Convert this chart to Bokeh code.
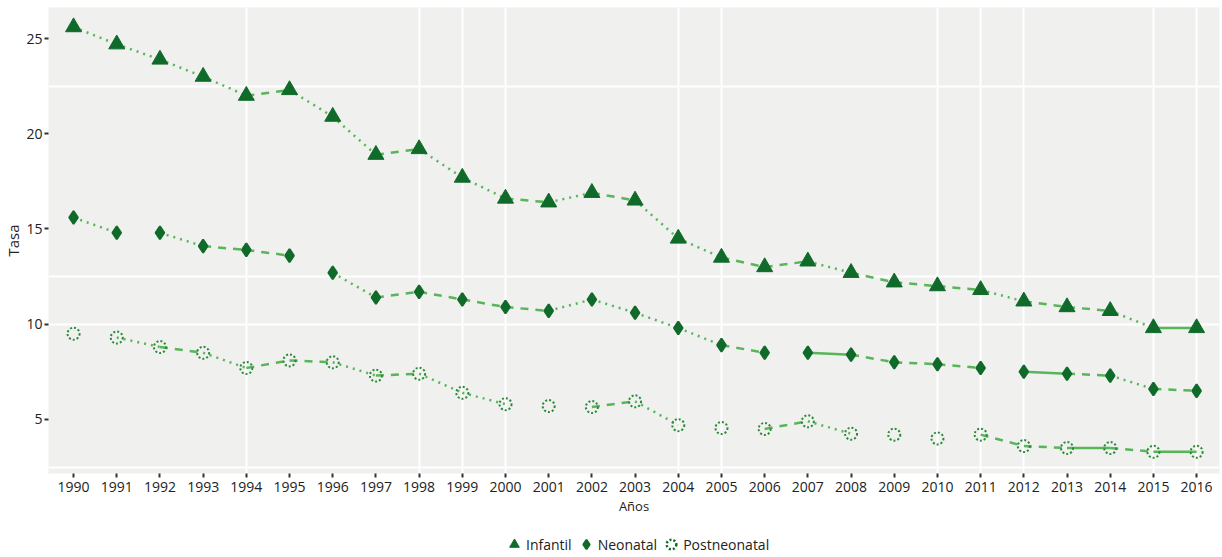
from bokeh.plotting import figure
from bokeh.layouts import column
from bokeh.models import Range1d, FixedTicker, Legend, LegendItem
from bokeh.embed import file_html
from bokeh.resources import INLINE

years = list(range(1990, 2017))
infantil = [25.6, 24.7, 23.9, 23.0, 22.0, 22.3, 20.9, 18.9, 19.2, 17.7, 16.6, 16.4, 16.9, 16.5,
            14.5, 13.5, 13.0, 13.3, 12.7, 12.2, 12.0, 11.8, 11.2, 10.9, 10.7, 9.8, 9.8]
neonatal = [15.6, 14.8, 14.8, 14.1, 13.9, 13.6, 12.7, 11.4, 11.7, 11.3, 10.9, 10.7, 11.3, 10.6,
            9.8, 8.9, 8.5, 8.5, 8.4, 8.0, 7.9, 7.7, 7.5, 7.4, 7.3, 6.6, 6.5]
postneonatal = [9.5, 9.3, 8.8, 8.5, 7.7, 8.1, 8.0, 7.3, 7.4, 6.4, 5.8, 5.7, 5.65, 5.95,
                4.7, 4.55, 4.5, 4.9, 4.25, 4.2, 4.0, 4.2, 3.6, 3.5, 3.5, 3.3, 3.3]
series_names = ["Infantil", "Neonatal", "Postneonatal"]
y_ticks = [5, 10, 15, 20, 25]

# segment line styles (o = dotted, D = dashed, S = solid, _ = none)
seg_styles = [
    "ooooDooDooDoDooDDoDDDoDDoS",
    "o_oDD_oDDDDooooD_SDDD_SDoD",
    "_oDoDDoDoo__Do__Do___DDSDS",
]
dash_map = {"o": "2 5", "D": "8 7", "S": "solid"}

DARK = "#106a2a"
LINE = "#58b558"
POST = "#2a8a3a"
FONT = "Open Sans"

p = figure(width=1220, height=530, output_backend="svg", toolbar_location=None,
           x_range=Range1d(1989.42, 2016.53), y_range=Range1d(2.16, 26.63),
           min_border_top=7, min_border_left=48, min_border_right=1, min_border_bottom=57)
p.background_fill_color = "#f0f0ef"
p.border_fill_color = "white"
p.outline_line_color = None

p.xgrid.ticker = FixedTicker(ticks=[1994, 1998, 1999, 2000, 2004, 2005, 2010, 2011, 2012, 2015, 2016])
p.ygrid.ticker = FixedTicker(ticks=[2.5, 10, 12.5, 22.5])
for g in (p.xgrid, p.ygrid):
    g.grid_line_color = "white"
    g.grid_line_width = 2

p.xaxis.ticker = FixedTicker(ticks=years)
p.yaxis.ticker = FixedTicker(ticks=y_ticks)
for ax in (p.xaxis, p.yaxis):
    ax.axis_line_color = None
    ax.major_tick_line_color = "#333333"
    ax.major_tick_line_width = 2
    ax.major_tick_out = 4
    ax.major_tick_in = 0
    ax.minor_tick_line_color = None
    ax.major_label_text_font = FONT
    ax.major_label_text_font_size = "14px"
    ax.major_label_text_color = "#222222"
    ax.axis_label_text_font = FONT
    ax.axis_label_text_font_style = "normal"
    ax.axis_label_text_color = "#222222"
p.xaxis.major_label_standoff = 4
p.yaxis.major_label_standoff = 2
p.xaxis.axis_label = "Años"
p.xaxis.axis_label_text_font_size = "13px"
p.xaxis.axis_label_standoff = 2
p.yaxis.axis_label = "Tasa"
p.yaxis.axis_label_text_font_size = "15px"
p.yaxis.axis_label_standoff = 0

all_vals = [infantil, neonatal, postneonatal]
for vals, styles in zip(all_vals, seg_styles):
    for key, dash in dash_map.items():
        idx = [i for i, c in enumerate(styles) if c == key]
        if not idx:
            continue
        p.segment(x0=[years[i] for i in idx], y0=[vals[i] for i in idx],
                  x1=[years[i + 1] for i in idx], y1=[vals[i + 1] for i in idx],
                  line_color=LINE, line_width=2.5, line_dash=dash)

p.scatter(years, infantil, marker="triangle", size=16, fill_color=DARK,
          line_color=DARK, line_width=1)
p.scatter(years, neonatal, marker="diamond", size=13, fill_color=DARK,
          line_color=DARK, line_width=2)
p.scatter(years, postneonatal, marker="circle", size=12, fill_color=None,
          line_color=POST, line_width=2, line_dash="2 2")

# legend strip below the chart (dummy renderers placed outside the visible range)
lg = figure(width=1220, height=27, output_backend="svg", toolbar_location=None,
            x_range=Range1d(0, 1), y_range=Range1d(0, 1),
            min_border=0, min_border_left=48, min_border_right=1, min_border_top=0, min_border_bottom=0)
lg.outline_line_color = None
lg.axis.visible = False
lg.grid.visible = False
lg.background_fill_color = "white"
d_inf = lg.scatter([5], [5], marker="triangle", size=18, fill_color=DARK, line_color=DARK, line_width=1)
d_neo = lg.scatter([5], [5], marker="diamond", size=14, fill_color=DARK, line_color=DARK, line_width=2)
d_post = lg.scatter([5], [5], marker="circle", size=12, fill_color=None, line_color=DARK,
                    line_width=2.5, line_dash="2 2")

legend = Legend(items=[LegendItem(label=series_names[0], renderers=[d_inf]),
                       LegendItem(label=series_names[1], renderers=[d_neo]),
                       LegendItem(label=series_names[2], renderers=[d_post])],
                orientation="horizontal", location=(454, 0))
legend.label_text_font = FONT
legend.label_text_font_size = "14px"
legend.label_text_color = "#222222"
legend.glyph_width = 24
legend.glyph_height = 26
legend.label_standoff = 0
legend.spacing = 2
legend.padding = 0
legend.margin = 0
legend.border_line_color = None
legend.background_fill_color = "white"
lg.add_layout(legend, "center")

layout = column(p, lg, spacing=0)
open("out.html", "w").write(file_html(layout, INLINE))
